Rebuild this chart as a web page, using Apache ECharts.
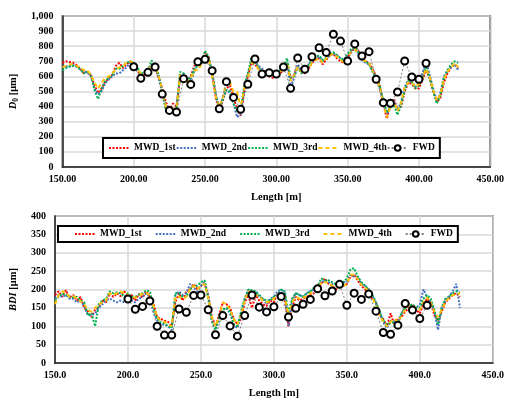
<!DOCTYPE html>
<html><head><meta charset="utf-8">
<script src="https://cdn.jsdelivr.net/npm/echarts@6/dist/echarts.min.js"></script>
<style>html,body{margin:0;padding:0;background:#fff}#c{width:507px;height:400px}</style>
</head><body><div id="c"></div>
<script>
// MWD positions: 150 to 427.5 m, every 2.5 m
const mwdStart = 150, mwdStep = 2.5;
// FWD positions: 200 to 405 m, every 5 m
const fwdStart = 200, fwdStep = 5;
const seriesNames = ['MWD_1st','MWD_2nd','MWD_3rd','MWD_4th','FWD'];
const xTicks = [150,200,250,300,350,400,450];

// ---- D0 [μm] (top) ----
const d0_1st = [690,700,695,690,675,650,620,635,605,540, 490,520,565,585,610,670,690,655,680,700,
  685,640,605,610,630,680,660,590,520,430, 380,420,400,590,600,560,600,670,675,700,
  760,730,610,460,370,440,520,540,460,380, 340,500,600,690,680,650,630,610,600,590,
  600,620,640,680,590,610,670,640,620,650, 690,710,720,680,710,740,750,720,700,690,
  730,760,800,770,720,700,690,650,600,540, 420,320,420,450,380,400,500,560,550,520,
  520,580,640,590,500,430,460,560,620,660, 680,650];
const d0_2nd = [660,665,670,675,665,645,630,625,600,520, 480,500,555,580,600,620,620,640,660,690,
  670,655,610,625,620,680,660,610,490,390, 355,365,385,590,620,590,580,650,690,690,
  745,715,630,480,390,455,510,490,420,330, 350,510,610,710,700,670,650,630,620,610,
  630,640,660,690,520,590,680,640,640,670, 700,720,730,700,720,740,750,740,720,700,
  740,770,780,750,710,690,680,640,590,520, 430,350,390,440,380,430,530,580,560,530,
  560,620,700,610,520,440,490,600,640,660, 680,640];
const d0_3rd = [640,655,665,670,665,650,620,630,610,510, 450,520,570,590,610,650,650,670,690,700,
  690,660,615,630,640,705,680,610,490,380, 360,370,390,630,620,575,590,650,670,680,
  770,730,620,480,380,450,510,500,420,370, 380,540,620,720,700,660,640,620,610,600,
  610,640,660,720,590,600,660,620,640,670, 710,730,740,710,720,750,760,740,720,710,
  750,780,790,760,720,700,680,630,590,540, 440,360,400,410,345,410,510,570,560,520,
  540,590,660,590,500,420,470,590,640,680, 700,690];
const d0_4th = [660,670,680,680,670,660,640,640,610,560, 520,560,590,600,620,650,660,670,690,700,
  690,650,620,620,620,680,670,600,510,400, 370,390,380,610,600,560,590,640,640,680,
  740,720,610,470,400,460,570,560,500,500, 390,520,590,690,680,650,640,620,610,600,
  620,630,650,690,570,610,660,630,630,650, 690,710,720,690,720,740,750,730,710,690,
  730,760,780,750,720,700,690,640,590,530, 420,330,400,430,370,430,530,560,560,530,
  550,590,650,600,510,440,480,580,630,660, 690,660];
const d0_fwd = [664,587,627,662,483,375,364,585,547,697,713,638,386,565,461,382,548,715,616,625,
  616,662,521,722,647,730,790,759,879,834,702,815,735,764,581,426,422,497,702,596,581,687];

// ---- BDI [μm] (bottom) ----
const bdi_1st = [185,195,180,198,178,185,170,180,150,140, 125,145,150,170,165,190,180,190,182,195,
  180,185,170,188,178,195,180,160,125,120, 115,112,100,165,190,170,195,200,215,200,
  210,215,185,125,100,130,165,160,150,120, 105,120,165,185,150,185,170,160,155,170,
  165,190,185,175,100,150,180,170,175,180, 185,190,200,215,230,215,210,200,215,210,
  215,235,240,225,210,200,185,175,165,130, 120,100,135,105,120,125,140,150,160,145,
  135,160,175,165,130,115,140,165,175,185, 190,180];
const bdi_2nd = [175,185,180,185,175,175,165,170,155,130, 130,135,150,160,170,175,170,165,170,165,
  175,170,165,175,180,190,180,140,115,105, 105,100,90,185,195,185,190,215,205,195,
  210,220,185,115,95,115,145,150,135,105, 95,135,175,200,190,195,180,175,160,175,
  180,195,200,190,100,170,190,185,180,190, 195,200,210,220,225,220,215,215,210,220,
  220,240,235,235,215,210,200,185,160,140, 110,95,115,115,105,135,150,160,155,150,
  160,200,180,165,140,90,150,170,180,195, 215,150];
const bdi_3rd = [170,180,190,185,180,178,180,170,165,130, 135,100,160,170,175,195,190,192,190,180,
  190,180,180,185,190,198,195,150,120,110, 108,100,95,190,190,180,180,200,210,210,
  220,225,175,115,90,125,145,150,140,105, 100,140,175,200,198,195,185,175,170,170,
  180,185,200,195,135,175,190,185,180,190, 195,205,210,230,225,225,220,215,210,220,
  230,255,258,235,220,210,200,185,165,140, 115,105,108,112,110,135,150,155,160,150,
  150,175,185,175,145,105,150,175,180,190, 195,192];
const bdi_4th = [160,185,195,190,180,182,175,168,160,145, 140,150,160,165,170,190,185,190,195,190,
  185,180,178,182,188,190,185,155,125,115, 112,105,100,180,180,175,180,200,210,200,
  210,215,178,125,100,125,165,160,145,120, 105,130,170,195,192,185,180,170,165,168,
  175,185,190,180,130,165,180,175,178,180, 190,195,200,220,220,218,210,210,205,210,
  215,240,240,228,212,205,195,178,155,130, 112,100,112,120,112,128,145,158,155,150,
  145,165,178,165,140,125,145,165,178,185, 185,190];
const bdi_fwd = [174,146,154,169,100,76,76,147,138,184,185,145,77,129,101,73,129,185,152,139,
  153,181,125,149,160,173,202,183,196,214,157,190,173,188,141,83,78,103,162,144,121,157];

const pairs = (arr, start, step) => arr.map((v, i) => [start + i * step, v]);

const FONT = 'Liberation Serif';
const colors = ['#ff0000','#4472c4','#00b050','#ffc000'];
const dashes = [[2,1.5],[2,1.5],[2,1.5],[4,3]];

function mwdSeries(arrs, idx) {
  return arrs.map((a, k) => ({
    name: seriesNames[k], type: 'line', xAxisIndex: idx, yAxisIndex: idx,
    data: pairs(a, mwdStart, mwdStep), symbol: 'none', showSymbol: false,
    lineStyle: { color: colors[k], width: 2, type: dashes[k] },
    itemStyle: { color: colors[k] }, z: 2 + k, animation: false
  }));
}
function fwdSeries(arr, idx) {
  return {
    name: 'FWD', type: 'line', xAxisIndex: idx, yAxisIndex: idx,
    data: pairs(arr, fwdStart, fwdStep), symbol: 'circle', symbolSize: 7,
    lineStyle: { color: '#7f7f7f', width: 1, type: [2,2] },
    itemStyle: { color: '#fff', borderColor: '#000', borderWidth: 2 }, z: 10, animation: false
  };
}

const txt = { fontFamily: FONT, fontWeight: 'bold', color: '#000', fontSize: 10 };

function xAxis(idx, dec) {
  return {
    type: 'value', gridIndex: idx, min: 150, max: 450, interval: 50,
    name: 'Length [m]', nameLocation: 'middle', nameGap: 25,
    nameTextStyle: { ...txt, fontSize: 10.5 },
    axisLine: { show: true, lineStyle: { color: '#222', width: 1.5 } },
    axisTick: { show: false },
    axisLabel: { ...txt, margin: 7, formatter: v => v.toFixed(dec) },
    splitLine: { show: true, lineStyle: { color: '#d9d9d9', width: 1.5 } }
  };
}
function yAxis(idx, max, interval, name, gap) {
  return {
    type: 'value', gridIndex: idx, min: 0, max: max, interval: interval,
    name: name, nameLocation: 'middle', nameGap: gap, nameRotate: 90,
    nameTextStyle: { ...txt, fontSize: 10.5, rich: {
      i: { ...txt, fontSize: 10.5, fontStyle: 'italic' },
      s: { ...txt, fontSize: 7.5, verticalAlign: 'bottom', padding: [5,0,0,0] },
      n: { ...txt, fontSize: 10.5 } } },
    axisLine: { show: true, lineStyle: { color: '#222', width: 1.5 } },
    axisTick: { show: false },
    axisLabel: { ...txt, margin: 9, formatter: v => v >= 1000 ? v.toLocaleString('en-US') : String(v) },
    splitLine: { show: true, lineStyle: { color: '#d9d9d9', width: 1.5 } }
  };
}
function legend(left, top, gap, padL, padV) {
  return {
    left: left, top: top, width: 460, orient: 'horizontal',
    data: seriesNames.map((n, k) => k < 4
      ? { name: n, itemStyle: { color: 'rgba(0,0,0,0)', borderWidth: 0 } }
      : { name: n }),
    itemWidth: 20, itemHeight: 7, itemGap: gap,
    textStyle: { ...txt, fontSize: 9.5 },
    backgroundColor: '#fff', borderColor: '#000', borderWidth: 2,
    padding: [padV, 5, padV, padL], selectedMode: false
  };
}

const chart = echarts.init(document.getElementById('c'), null, { renderer: 'canvas' });
chart.setOption({
  animation: false,
  backgroundColor: '#fff',
  grid: [
    { left: 54, right: 11, top: 16, height: 151, show: true, borderColor: '#333', borderWidth: 1.5 },
    { left: 53, right: 6, top: 216, height: 152, show: true, borderColor: '#333', borderWidth: 1.5 }
  ],
  xAxis: [xAxis(0, 2), xAxis(1, 1)],
  yAxis: [
    yAxis(0, 1000, 100, '{i|D}{s|0}{n| [μm]}', 34),
    yAxis(1, 400, 50, '{i|BDI}{n| [μm]}', 36)
  ],
  legend: [legend(103, 138, 0, 5, 5), legend(58, 226, 13, 16, 3)],
  series: [
    ...mwdSeries([d0_1st, d0_2nd, d0_3rd, d0_4th], 0), fwdSeries(d0_fwd, 0),
    ...mwdSeries([bdi_1st, bdi_2nd, bdi_3rd, bdi_4th], 1), fwdSeries(bdi_fwd, 1)
  ]
});
</script></body></html>
